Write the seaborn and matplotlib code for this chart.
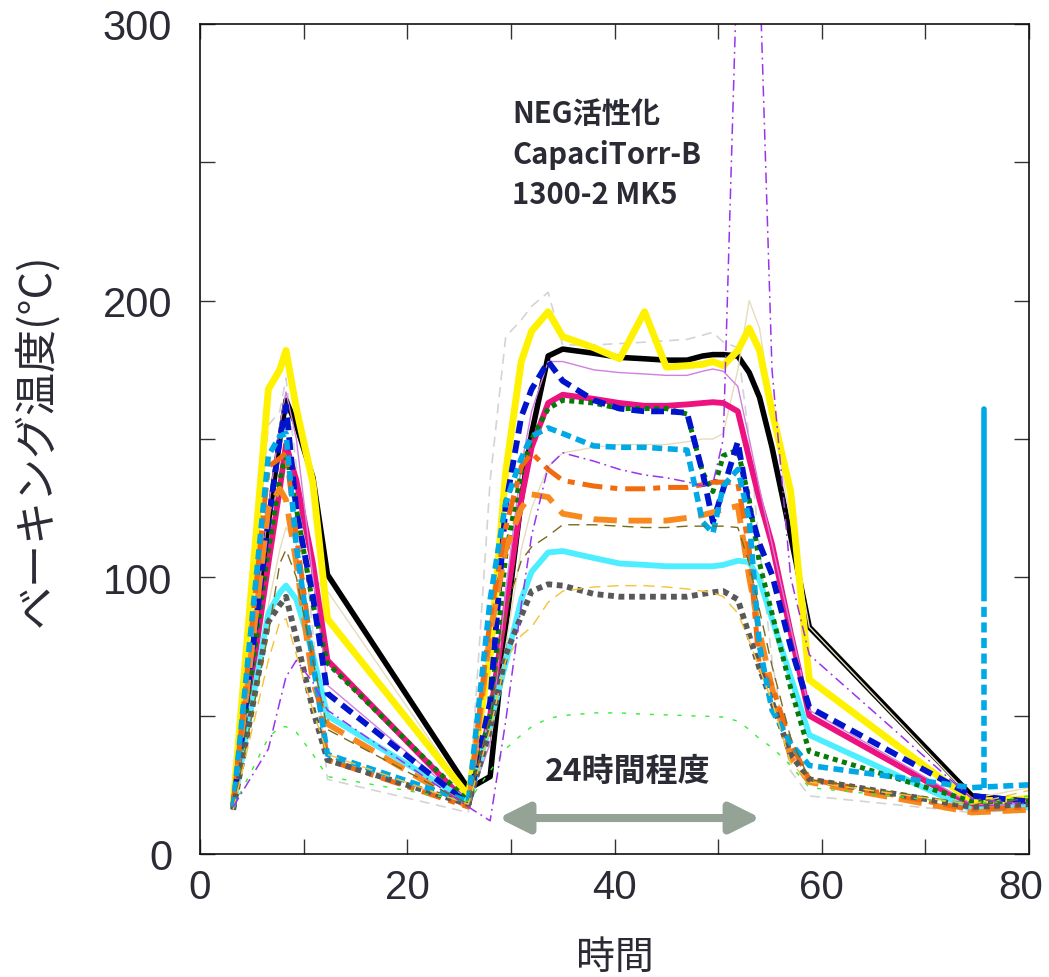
##### Libraries #####
import seaborn as sns
from matplotlib import pyplot as plt
from matplotlib.patches import FancyArrowPatch
from matplotlib.ticker import MultipleLocator
from matplotlib.transforms import ScaledTranslation

##### Data #####
# elapsed time [h] shared by every logger channel
hours = [3.2, 6.6, 7.7, 8.3, 9.3, 10.9, 12.3, 25.9,
         28.0, 29.5, 31.0, 32.0, 33.6, 35.0, 38.0, 40.5, 42.9, 45.0, 47.0,
         48.5, 49.5, 50.5, 51.9, 53.0, 54.0, 55.2, 57.0, 58.8, 74.5, 80.0]

# baking temperature per channel [deg C]
black = [17, 120, 150, 164, 155, 136, 101, 23.5,
         28, 82, 128, 152, 180, 182.5, 181, 179.5, 179, 178.5, 178.5,
         180, 180.5, 180.5, 180, 174, 165, 147, 115, 82, 21, 19]
yellow = [18, 168, 175, 182, 161, 134, 85, 21,
          72, 138, 178, 189, 196, 187, 183, 179, 196, 176, 176.5,
          177, 178, 176.5, 182, 190, 182, 160, 131, 63, 19, 20]
pink = [17, 105, 132, 148, 135, 105, 70, 18,
        50, 89, 128, 147, 163, 166, 164.5, 163, 162, 162, 162.5,
        163, 163.3, 163, 160, 143, 128, 112, 80, 50, 17, 17]
cyan = [17, 87, 94.5, 97, 92, 72, 50, 19,
        47, 69, 92, 102, 109, 109.5, 107, 105, 104.5, 104, 104,
        104, 104, 104.5, 106, 105.5, 99, 85, 64, 43, 16, 17]
gray = [16, 84, 90, 93, 78, 52, 34, 18,
        45, 72, 86, 95, 97.5, 97, 94, 93, 93, 93, 93,
        94, 94.6, 95, 92, 79, 67, 55, 36, 27, 17, 18]
blue = [17, 120, 150, 162, 124, 93, 58, 18,
        55, 126, 158, 168, 178, 171, 164, 161, 160, 160, 159.5,
        138, 120, 132, 149, 125, 112, 101, 75, 53, 21, 19]
green = [17, 110, 135, 145, 125, 90, 69, 19,
         50, 108, 138, 150, 161, 164, 163, 161, 161, 161, 159,
         138, 131, 144, 146, 128, 105, 87, 60, 37, 19, 19]
skyblue = [17, 144, 151, 152, 111, 69, 36, 19,
           92, 127, 143, 151, 154, 152, 147.5, 147, 147, 146.5, 146,
           120, 116, 133, 139, 121, 75, 52, 40, 32, 24, 25]
orange_dd = [17, 140, 143, 145, 115, 70, 34, 17,
             85, 118, 140, 145, 139, 135, 133, 132, 132, 132.5, 132.5,
             133.5, 134.4, 134.4, 134, 110, 67, 61, 40, 27, 16, 17]
orange_ld = [17, 125, 132, 128, 105, 62, 47, 17,
             80, 110, 125, 130, 129, 123, 121, 120.5, 120.5, 120.5, 121.5,
             122.5, 123.5, 124.5, 125.8, 100, 80, 60, 35, 26, 15, 16]
purple = [17, 38, 55, 64, 70, 62, 52, 17,
          12, 48, 90, 115, 140, 145, 142, 139, 137, 136, 134.5,
          133, 134, 150, 330, 350, 320, 175, 100, 72, 20, 18]
orchid = [17, 125, 155, 167, 150, 100, 61, 18,
          40, 95, 140, 160, 178, 178, 175, 174, 173.5, 173, 173,
          174.5, 175.3, 174.5, 169, 150, 132, 112, 82, 52, 18, 18]
silver = [17, 155, 160, 172, 140, 80, 27, 15,
          135, 187, 193, 198, 203, 184, 184, 184.5, 185, 185.5, 186,
          187.5, 188.6, 185, 183, 150, 110, 70, 30, 21, 15, 16]
lime = [17, 42, 46, 46, 44, 36, 28, 19,
        30, 38, 43, 46, 49, 50, 51, 51, 50.5, 50.3, 50,
        49.8, 49.7, 49.5, 48, 45, 41.6, 38.5, 32, 24, 18, 21]
olive = [16, 80, 105, 110, 100, 70, 45, 18,
         50, 88, 106, 111, 115, 119, 119, 118.5, 118, 118, 118.5,
         118.5, 118.5, 118.5, 118, 105, 88, 68, 42, 27, 18, 20]
gold = [16, 70, 84, 85, 72, 52, 36, 18,
        45, 70, 79, 82, 91, 95, 96.5, 97, 97, 96.5, 95.8,
        95, 94.5, 93, 87, 77, 67, 55, 33, 26, 18, 23]
cream = [16, 90, 110, 118, 112, 100, 95, 21,
         40, 75, 110, 125, 140, 145, 147, 148, 148, 148, 149,
         150, 150, 152, 175, 200, 190, 160, 120, 82, 20, 24]

# sky-blue channel jumps once at the end of the run
spike_hours = [75.7, 75.7]
spike_low = [24, 95]
spike_high = [95, 161]

##### Figure #####
sns.set_theme(style='ticks')
plt.rcParams['font.family'] = ['Liberation Sans Narrow', 'Liberation Sans', 'DejaVu Sans']
jp_font = ['Noto Sans CJK JP', 'DejaVu Sans']
text_color = '#2b2b35'

fig = plt.figure(figsize=(10.49, 9.78), dpi=100)
ax = fig.add_axes([200 / 1049, 1 - 855 / 978, 829 / 1049, 830 / 978])

# (values, colour, width, linestyle) in drawing order
channels = [
    (silver, '#d4d4d4', 1.2, (0, (6, 4))),
    (black, '#000000', 4.0, '-'),
    (cream, '#e6dcbc', 1.0, '-'),
    (yellow, '#fff200', 5.0, '-'),
    (pink, '#ec1380', 4.2, '-'),
    (orchid, '#d27ee0', 1.0, '-'),
    (cyan, '#4deeff', 4.2, '-'),
    (green, '#087a08', 3.6, (0, (1, 0.9))),
    (blue, '#0014cc', 4.2, (0, (2.2, 1.2))),
    (orange_ld, '#f8891e', 4.2, (0, (4, 2))),
    (orange_dd, '#f26b0f', 3.6, (0, (4, 1.6, 1.4, 1.6))),
    (gray, '#595959', 4.2, (0, (1, 0.8))),
    (skyblue, '#00a9e6', 4.0, (0, (1.8, 1))),
    (lime, '#33ee33', 1.0, (0, (3, 7))),
    (olive, '#7a6a1c', 1.0, (0, (8, 5))),
    (gold, '#f5c235', 1.0, (0, (8, 5))),
    (purple, '#9933ee', 1.1, (0, (7, 3, 1.2, 3))),
]
for vals, color, lw, ls in channels:
    sns.lineplot(x=hours, y=vals, ax=ax, color=color, lw=lw, linestyle=ls,
                 estimator=None, sort=False)

sns.lineplot(x=spike_hours, y=spike_low, ax=ax, color='#00a9e6', lw=4.0,
             linestyle=(0, (1.8, 1)), estimator=None, sort=False)
sns.lineplot(x=spike_hours, y=spike_high, ax=ax, color='#00a9e6', lw=4.0,
             estimator=None, sort=False)

# axes
ax.set_xlim(0, 80)
ax.set_ylim(0, 300)
ax.xaxis.set_major_locator(MultipleLocator(20))
ax.xaxis.set_minor_locator(MultipleLocator(10))
ax.yaxis.set_major_locator(MultipleLocator(100))
ax.yaxis.set_minor_locator(MultipleLocator(50))
ax.tick_params(which='both', direction='in', length=11, width=1.0,
               top=True, right=True, color='#333333')
ax.tick_params(axis='x', which='major', labelsize=29, pad=10, labelcolor=text_color)
ax.tick_params(axis='y', which='major', labelsize=30, pad=20, labelcolor=text_color)
for spine in ax.spines.values():
    spine.set_color('#111111')
    spine.set_linewidth(1.2)

# keep the "80" tick label inside the canvas
fig.canvas.draw()
for tick in ax.xaxis.get_major_ticks():
    if abs(tick.get_loc() - 80) < 1e-6:
        lab = tick.label1
        lab.set_transform(lab.get_transform() + ScaledTranslation(-6 / 72, 0, fig.dpi_scale_trans))

ax.set_xlabel('時間', family=jp_font, fontsize=28, color=text_color)
ax.set_ylabel('ベーキング温度(°C)', family=jp_font, fontsize=31, color=text_color)
ax.xaxis.set_label_coords(0.5, -0.1)
ax.yaxis.set_label_coords(-0.17, 0.5)

# annotations
notes = ['NEG活性化', 'CapaciTorr-B', '1300-2 MK5']
note_y = [268, 253, 238.5]
for txt, yy in zip(notes, note_y):
    ax.text(30.1, yy, txt, family=jp_font, fontsize=21, fontweight='bold',
            color=text_color, ha='left', va='center')

ax.text(41.3, 30, '24時間程度', family=jp_font, fontsize=23, fontweight='bold',
        color=text_color, ha='center', va='center')

arrow = FancyArrowPatch((28.8, 13), (54.1, 13),
                        arrowstyle='<|-|>,head_length=0.9,head_width=0.45',
                        mutation_scale=20, lw=5.8, color='#94a396',
                        shrinkA=0, shrinkB=0)
ax.add_patch(arrow)

fig.savefig('out.png', dpi=100)
